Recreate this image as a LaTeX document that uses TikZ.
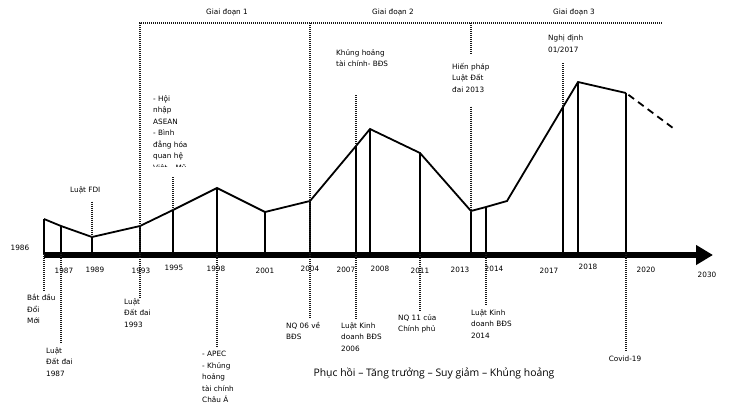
\documentclass[tikz,border=0pt]{standalone}
\usepackage{fontspec}
\setmainfont{DejaVu Sans}
\newfontfamily\captionfont{Open Sans}
\usetikzlibrary{arrows.meta}

\begin{document}
\begin{tikzpicture}[x=1pt,y=-1pt,
  curveline/.style={line width=1.8pt,line join=miter},
  stem/.style={line width=1.8pt},
  dotline/.style={line width=1.7pt,dash pattern=on 1pt off 1pt,black!90},
  year/.style={font=\fontsize{7.3}{8}\selectfont,inner sep=0pt},
  note/.style={font=\fontsize{7.3}{11.5}\selectfont,align=left,inner sep=0pt,anchor=north west}]
\useasboundingbox (0,0) rectangle (729,418);

% Points of the curve and their feet on the axis
\foreach \yr/\x/\y in {1986/44/219, 1987/61/226, 1989/92/237, 1993/140/226, 1995/173/210,
  1998/217/188, 2001/265/212, 2004/310/201, 2007/356/146, 2008/370/129, 2011/420/153,
  2013/471/211, 2014/486/207, 2017/563/107, 2018/578/82, 2020/626/93}{
  \coordinate (c\yr) at (\x,\y);
  \coordinate (b\yr) at (\x,254);
}
\coordinate (knee) at (507,201);
\coordinate (trend) at (673,128);
\coordinate (start) at (44,255);
\coordinate (end) at (713,255);
\coordinate (topleft) at (140,23);
\coordinate (topright) at (663,23);

% Stems
\foreach \yr in {1986,1987,1989,1993,1995,1998,2001,2004,2007,2008,2011,2013,2014,2017,2018,2020}
  \draw[stem] (c\yr) -- (b\yr);

% Curve
\draw[curveline] (c1986) -- (c1987) -- (c1989) -- (c1993) -- (c1995) -- (c1998) -- (c2001)
  -- (c2004) -- (c2007) -- (c2008) -- (c2011) -- (c2013) -- (c2014) -- (knee) -- (c2017)
  -- (c2018) -- (c2020);
\draw[line width=1.8pt,dash pattern=on 7pt off 5pt,shorten <=3pt] (c2020) -- (trend);

% Time axis
\draw[line width=6pt,-{Triangle[length=17pt,width=19pt]}] (start) -- (end);

% Years
\node[year] (y1986) at (20,248) {1986};
\foreach \yr/\x/\y in {1987/64/271, 1989/95/270, 1993/141/271, 1995/174/268, 1998/216/269,
  2001/265/271, 2004/310/269, 2007/346/270, 2008/380/269, 2011/420/271, 2013/460/270,
  2014/494/269, 2017/549/271, 2018/588/267, 2020/646/270, 2030/707/275}
  \node[year] (y\yr) at (\x,\y) {\yr};

% Phases
\node[year] (g1) at (227,12) {Giai đoạn 1};
\node[year] (g2) at (393,12) {Giai đoạn 2};
\node[year] (g3) at (574,12) {Giai đoạn 3};

% Events below the axis
\node[note] (n1986) at (27,294) {Bắt đầu\\Đổi\\Mới};
\node[note] (n1987) at (46,347) {Luật\\Đất đai\\1987};
\node[note] (n1993) at (124,298) {Luật\\Đất đai\\1993};
\node[note] (n1998) at (202,351) {- APEC\\- Khủng\\hoảng\\tài chính\\Châu Á};
\node[note] (n2004) at (286,322) {NQ 06 về\\BĐS};
\node[note] (n2007) at (341,322) {Luật Kinh\\doanh BĐS\\2006};
\node[note] (n2011) at (398,314) {NQ 11 của\\Chính phủ};
\node[note] (n2014) at (471,309) {Luật Kinh\\doanh BĐS\\2014};
\node[year] (n2020) at (625,359) {Covid-19};

% Events above the curve
\node[note] (n1989) at (70,186) {Luật FDI};
\begin{scope}
  \clip (145,90) rectangle (215,166);
  \node[note] (n1995) at (153,95) {- Hội\\nhập\\ASEAN\\- Bình\\đẳng hóa\\quan hệ\\Việt – Mỹ};
\end{scope}
\node[note] (k2007) at (336,49) {Khủng hoảng\\tài chính- BĐS};
\node[note] (h2013) at (452,63) {Hiến pháp\\Luật Đất\\đai 2013};
\node[note] (d2017) at (548,35) {Nghị định\\01/2017};

% Dotted markers
\draw[dotline] (topleft |- n1993.north) -- (topleft) -- (topright);
\draw[dotline,shorten >=4pt] (topleft -| c2004) -- (c2004 |- n2004.north);
\draw[dotline,shorten >=8pt] (topleft -| c2013) -- (c2013 |- h2013.north);
\draw[dotline,shorten <=14pt] (c2013 |- h2013.south) -- (c2013);
\draw[dotline,shorten <=8pt] (c1989 |- n1989.south) -- (c1989);
\draw[dotline] (c1995) -- (c1995 |- 0,177);
\draw[dotline] (c2007) -- (c2007 |- 0,95);
\draw[dotline,shorten <=10pt] (c2017 |- d2017.south) -- (c2017);
\foreach \yr in {1986,1987,1998,2007,2011,2014}
  \draw[dotline,shorten >=3pt] (b\yr) -- (b\yr |- n\yr.north);
\draw[dotline,shorten >=5pt] (b2020) -- (b2020 |- n2020.north);

% Caption
\node[font=\captionfont\fontsize{10.4}{12}\selectfont] (caption) at (434,373)
  {Phục hồi – Tăng trưởng – Suy giảm – Khủng hoảng};
\end{tikzpicture}
\end{document}
